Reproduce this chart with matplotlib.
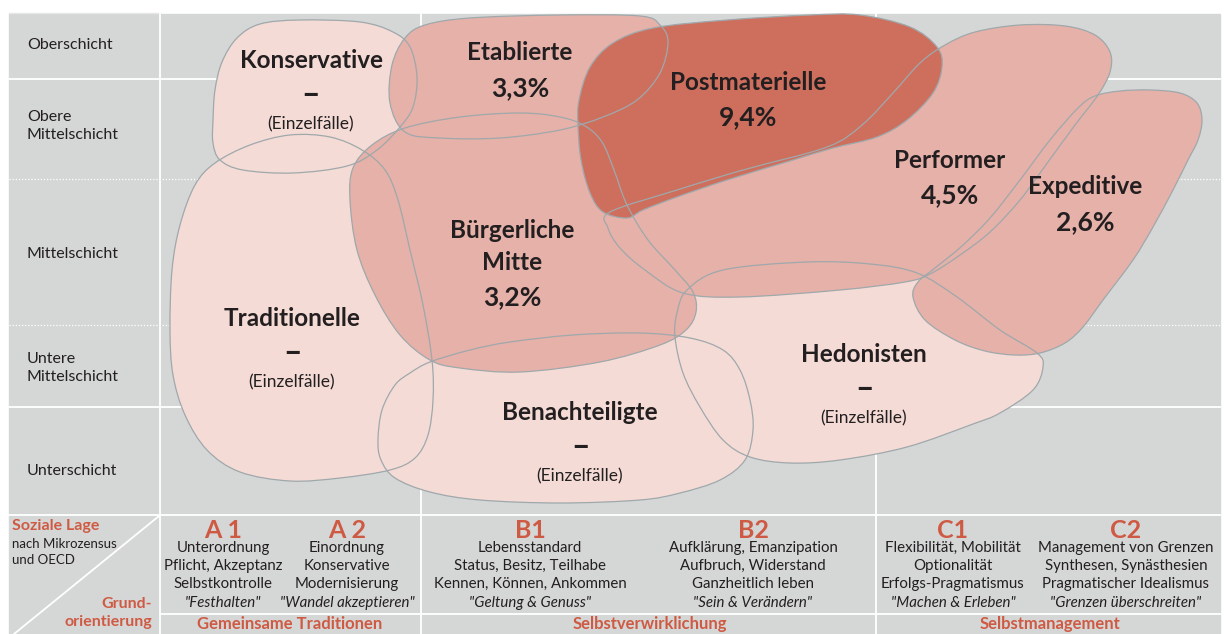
import numpy as np
import matplotlib
matplotlib.use("Agg")
import matplotlib.pyplot as plt
from matplotlib.path import Path
from matplotlib.patches import PathPatch, Rectangle

plt.rcParams['font.family'] = ['Lato', 'DejaVu Sans']

W, H = 1229, 634

##### colours #####
GRAY = '#D5D7D7'
LIGHT = '#F5DBD6'
MEDIUM = '#E6B1A9'
DARK = '#CE6F5E'
EDGE = '#9FA8AB'
RED = '#CF5A43'
INK = '#231F20'
###################

# social classes (rows)
schichten = ["Oberschicht", "Obere\nMittelschicht", "Mittelschicht",
             "Untere\nMittelschicht", "Unterschicht"]

# milieus, shares and shade class
milieus = ["Konservative", "Traditionelle", "Benachteiligte", "Hedonisten",
           "Etablierte", "Bürgerliche\nMitte", "Performer", "Expeditive",
           "Postmaterielle"]
anteile = ["–", "–", "–", "–", "3,3%", "3,2%", "4,5%", "2,6%", "9,4%"]
stufe = [0, 0, 0, 0, 1, 1, 1, 1, 2]

# outline points of each milieu (smoothed to a closed curve)
umriss = {
    "Konservative": [(213, 120), (215, 90), (222, 62), (237, 38), (260, 24), (300, 20),
                     (360, 22), (393, 32), (410, 47), (417, 77), (413, 107), (400, 127),
                     (377, 150), (347, 166), (293, 173), (243, 170), (220, 160), (213, 143)],
    "Traditionelle": [(170, 330), (172, 270), (180, 225), (195, 185), (215, 163), (250, 145),
                      (290, 135), (330, 137), (362, 150), (385, 170), (398, 200), (410, 250),
                      (423, 305), (432, 360), (433, 400), (428, 435), (415, 458), (390, 470),
                      (340, 478), (290, 481), (240, 472), (207, 450), (185, 415), (173, 375)],
    "Benachteiligte": [(378, 440), (382, 410), (395, 385), (410, 373), (430, 362), (470, 350),
                       (510, 342), (573, 335), (640, 333), (690, 338), (723, 350), (740, 370),
                       (750, 400), (753, 430), (745, 460), (720, 480), (680, 493), (640, 500),
                       (560, 503), (480, 500), (430, 492), (395, 478), (381, 460)],
    "Hedonisten": [(677, 313), (687, 290), (723, 270), (807, 262), (870, 264), (917, 273),
                   (957, 297), (1000, 330), (1037, 353), (1043, 367), (1033, 390), (1000, 413),
                   (973, 424), (907, 447), (840, 460), (790, 463), (750, 457), (723, 440),
                   (700, 407), (683, 373), (675, 337)],
    "Etablierte": [(390, 103), (392, 65), (405, 38), (425, 25), (470, 18), (560, 15),
                   (640, 16), (660, 25), (668, 42), (660, 73), (637, 100), (603, 117),
                   (560, 130), (500, 138), (440, 138), (405, 132)],
    "Bürgerliche\nMitte": [(350, 200), (353, 168), (372, 145), (405, 128), (460, 117), (520, 113),
                           (560, 117), (585, 126), (602, 142), (614, 170), (627, 205), (648, 240),
                           (675, 270), (693, 292), (696, 312), (686, 330), (660, 345), (600, 362),
                           (520, 372), (460, 368), (430, 360), (400, 335), (375, 295), (357, 250)],
    "Performer": [(610, 212), (677, 190), (743, 170), (827, 147), (862, 125), (893, 93),
                  (920, 63), (945, 45), (975, 32), (1020, 25), (1065, 26), (1095, 35),
                  (1110, 52), (1110, 72), (1098, 95), (1075, 125), (1048, 162), (1020, 200),
                  (990, 232), (960, 255), (930, 274), (905, 282), (840, 290), (740, 297),
                  (683, 293), (645, 270), (620, 248), (608, 228)],
    "Expeditive": [(1078, 108), (1095, 96), (1120, 91), (1150, 90), (1180, 93), (1197, 103),
                   (1202, 120), (1198, 140), (1188, 160), (1173, 190), (1153, 227), (1133, 260),
                   (1103, 300), (1083, 327), (1065, 343), (1040, 353), (1015, 355), (985, 351),
                   (955, 340), (925, 320), (913, 297), (918, 282), (935, 268), (962, 246),
                   (990, 218), (1020, 180), (1050, 140)],
    "Postmaterielle": [(578, 125), (579, 100), (590, 67), (613, 43), (653, 28), (727, 20),
                       (810, 15), (860, 15), (910, 27), (937, 47), (942, 67), (933, 93),
                       (907, 120), (877, 137), (833, 148), (793, 160), (727, 180), (677, 197),
                       (643, 210), (627, 218), (603, 212), (590, 193), (581, 160)],
}

# label anchor (x, y of first line) per milieu
label_pos = {
    "Konservative": (311, 60), "Traditionelle": (292, 318), "Benachteiligte": (580, 412),
    "Hedonisten": (864, 354), "Etablierte": (520, 53), "Bürgerliche\nMitte": (512, 230),
    "Performer": (950, 160), "Expeditive": (1085, 187), "Postmaterielle": (748, 82),
}

# basic orientations (columns)
codes = ["A 1", "A 2", "B1", "B2", "C1", "C2"]
werte = [
    ["Unterordnung", "Pflicht, Akzeptanz", "Selbstkontrolle"],
    ["Einordnung", "Konservative", "Modernisierung"],
    ["Lebensstandard", "Status, Besitz, Teilhabe", "Kennen, Können, Ankommen"],
    ["Aufklärung, Emanzipation", "Aufbruch, Widerstand", "Ganzheitlich leben"],
    ["Flexibilität, Mobilität", "Optionalität", "Erfolgs-Pragmatismus"],
    ["Management von Grenzen", "Synthesen, Synästhesien", "Pragmatischer Idealismus"],
]
mottos = ['"Festhalten"', '"Wandel akzeptieren"', '"Geltung & Genuss"',
          '"Sein & Verändern"', '"Machen & Erleben"', '"Grenzen überschreiten"']
gruppen = ["Gemeinsame Traditionen", "Selbstverwirklichung", "Selbstmanagement"]


def smooth_path(pts):
    """Closed Catmull-Rom curve through pts, as cubic bezier path."""
    p = np.asarray(pts, dtype=float)
    n = len(p)
    verts = [p[0]]
    codes_ = [Path.MOVETO]
    for i in range(n):
        p0, p1, p2, p3 = p[i - 1], p[i], p[(i + 1) % n], p[(i + 2) % n]
        verts += [p1 + (p2 - p0) / 6, p2 - (p3 - p1) / 6, p2]
        codes_ += [Path.CURVE4] * 3
    return Path(verts, codes_)


fig = plt.figure(figsize=(W / 100, H / 100), dpi=100)
ax = fig.add_axes([0, 0, 1, 1])
ax.set_xlim(0, W)
ax.set_ylim(H, 0)
ax.axis('off')

# background grid
ax.add_patch(Rectangle((9, 14), 1211, H - 14, color=GRAY, zorder=0))
ax.plot([9, 160], [13, 13], color='#E6E6E6', lw=1, zorder=1)
for y in [79, 407, 515]:
    ax.plot([9, 1220], [y, y], color='white', lw=1.3, zorder=1)
for y in [179, 325]:
    ax.plot([9, 1220], [y, y], color='white', lw=0.9, ls=(0, (1, 1.5)), zorder=1)
ax.plot([160, 1220], [614, 614], color='white', lw=1.3, zorder=1)
for x in [160, 421, 876]:
    ax.plot([x, x], [14, H], color='white', lw=1.3, zorder=1)
ax.plot([159, 14], [516, H], color='white', lw=1.3, zorder=1)

# milieu shapes: fills by shade, outlines on top
fills = [LIGHT, MEDIUM, DARK]
for m, s in zip(milieus, stufe):
    ax.add_patch(PathPatch(smooth_path(umriss[m]), facecolor=fills[s],
                           edgecolor='none', zorder=2 + s))
for m in milieus:
    ax.add_patch(PathPatch(smooth_path(umriss[m]), facecolor='none',
                           edgecolor=EDGE, lw=0.9, zorder=6))

# milieu labels
for m, a in zip(milieus, anteile):
    x, y = label_pos[m]
    parts = m.split("\n")
    for k, part in enumerate(parts):
        ax.text(x, y + 32 * k, part, ha='center', va='center', fontsize=17.5,
                fontweight='bold', color=INK, zorder=7)
    y_last = y + 32 * (len(parts) - 1)
    if a == "–":
        ax.text(x, y_last + 35, a, ha='center', va='center', fontsize=23,
                fontweight='bold', color=INK, zorder=7)
        ax.text(x, y_last + 64, "(Einzelfälle)", ha='center', va='center',
                fontsize=12.5, color=INK, zorder=7)
    else:
        ax.text(x, y_last + 35, a, ha='center', va='center', fontsize=19,
                fontweight='bold', color=INK, zorder=7)

# row labels
row_y = [45, 126, 254, 368, 471]
for s, y in zip(schichten, row_y):
    ax.text(27, y, s, ha='left', va='center', fontsize=11.5, color=INK,
            linespacing=1.3, zorder=7)

# bottom legend
ax.text(12, 526, "Soziale Lage", ha='left', va='center', fontsize=11.5,
        fontweight='bold', color=RED)
ax.text(12, 544, "nach Mikrozensus", ha='left', va='center', fontsize=9.5, color=INK)
ax.text(12, 560, "und OECD", ha='left', va='center', fontsize=9.5, color=INK)
ax.text(152, 604, "Grund-", ha='right', va='center', fontsize=11.5,
        fontweight='bold', color=RED)
ax.text(152, 622, "orientierung", ha='right', va='center', fontsize=11.5,
        fontweight='bold', color=RED)

col_x = [223, 347, 530, 753, 953, 1126]
for c, w, mo, x in zip(codes, werte, mottos, col_x):
    ax.text(x, 530, c, ha='center', va='center', fontsize=18,
            fontweight='bold', color=RED)
    for k, line in enumerate(w):
        ax.text(x, 548 + 18 * k, line, ha='center', va='center',
                fontsize=10.8, color=INK)
    ax.text(x, 603, mo, ha='center', va='center', fontsize=10.8,
            style='italic', color=INK)

group_x = [290, 650, 1050]
for g, x in zip(gruppen, group_x):
    ax.text(x, 624, g, ha='center', va='center', fontsize=12,
            fontweight='bold', color=RED)

fig.savefig("out.png", dpi=100)
